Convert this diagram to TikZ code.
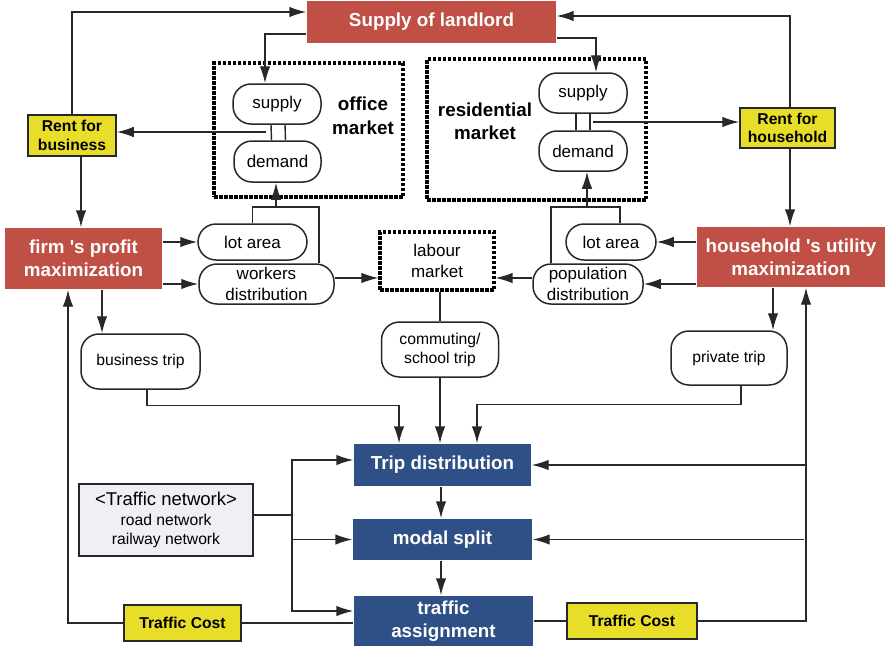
\documentclass[tikz,border=0pt]{standalone}
\usepackage{fontspec}
\setmainfont{Liberation Sans}
\usepackage{tikz}
\usetikzlibrary{arrows.meta,positioning}
\usepackage{xcolor}
\definecolor{landred}{RGB}{192,80,70}
\definecolor{tripblue}{RGB}{47,80,134}
\definecolor{rentyellow}{RGB}{232,222,42}
\definecolor{netgray}{RGB}{238,240,245}
\definecolor{linegray}{RGB}{40,40,40}

\begin{document}
\begin{tikzpicture}[
      x=1pt,y=-1pt,
      >={Latex[length=17pt,width=10.5pt]},
      line width=1.4pt,draw=linegray,
      every node/.style={inner sep=0pt,align=center,font=\fontsize{17}{20.5}\selectfont},
      redbox/.style={fill=landred,text=white,font=\fontsize{18.8}{22.7}\selectfont\bfseries},
      bluebox/.style={fill=tripblue,text=white,font=\fontsize{18.8}{22.7}\selectfont\bfseries},
      rentbox/.style={draw,line width=1.5pt,fill=rentyellow,font=\fontsize{15.7}{18.7}\selectfont\bfseries},
      pill/.style={draw,line width=1.5pt,rounded corners=18pt},
      trippill/.style={pill,font=\fontsize{15.7}{19}\selectfont},
      market/.style={draw=black,line width=3.2pt,dash pattern=on 3.5pt off 1.5pt},
      mktlabel/.style={font=\fontsize{18.8}{23.5}\selectfont\bfseries}
    ]
      \useasboundingbox (0,0) rectangle (885,645);
      % markets
      \node[market,minimum width=189,minimum height=134] (officemk) at (308.5,130) {};
      \node[market,minimum width=219,minimum height=141] (resmk) at (536.5,129.5) {};
      \node[market,minimum width=114,minimum height=58] (labour) at (437,261) {labour\\market};
      \node[mktlabel] (officetxt) at (363,116) {office\\market};
      \node[mktlabel] (restxt) at (485,121.5) {residential\\market};

      \node[redbox,minimum width=249,minimum height=42] (landlord) at (431.5,22) {Supply of landlord};
      \node[pill,minimum width=88,minimum height=40] (osupply) at (277,104) {supply};
      \node[pill,minimum width=87,minimum height=41] (odemand) at (277.5,161.5) {demand};
      \node[pill,minimum width=88,minimum height=40] (rsupply) at (583,93) {supply};
      \node[pill,minimum width=88,minimum height=40] (rdemand) at (583,151) {demand};
      \node[rentbox,minimum width=88,minimum height=41] (rbus) at (72,135.5) {Rent for\\business};
      \node[rentbox,minimum width=95,minimum height=40] (rhouse) at (787.5,128) {Rent for\\household};

      \node[redbox,minimum width=157,minimum height=61] (firm) at (83.5,258.5) {firm \textquotesingle s profit\\maximization};
      \node[redbox,minimum width=188,minimum height=60] (house) at (791,257) {household \textquotesingle s utility\\maximization};
      \node[pill,minimum width=109,minimum height=36] (olot) at (252.5,242) {lot area};
      \node[pill,minimum width=135,minimum height=40] (workers) at (266.5,284) {workers\\distribution};
      \node[pill,minimum width=90,minimum height=36] (rlot) at (611,242) {lot area};
      \node[pill,minimum width=110,minimum height=40] (popul) at (588,284) {population\\distribution};

      \node[trippill,minimum width=119,minimum height=55] (btrip) at (140.5,361.5) {business trip};
      \node[trippill,minimum width=117,minimum height=55] (ctrip) at (440,349.5) {commuting/\\school trip};
      \node[trippill,minimum width=116,minimum height=54] (ptrip) at (729,358) {private trip};

      \node[bluebox,minimum width=177,minimum height=42] (tdist) at (442.5,465) {Trip distribution};
      \node[bluebox,minimum width=179,minimum height=41] (modal) at (442.5,539.5) {modal split};
      \node[bluebox,minimum width=179,minimum height=50] (tassign) at (443.5,621) {traffic\\assignment};
      \node[rentbox,minimum width=117,minimum height=36] (tcl) at (182.5,623) {Traffic Cost};
      \node[rentbox,minimum width=130,minimum height=36] (tcr) at (632,621) {Traffic Cost};
      \node[draw,line width=1.5pt,fill=netgray,minimum width=174,minimum height=72,
            font=\fontsize{15.7}{19.3}\selectfont] (network) at (166,520)
            {{\fontsize{18.5}{21}\selectfont <Traffic network>}\\road network\\railway network};

      \coordinate (oeq) at (266,132);
      \coordinate (req) at (593,122);
      \coordinate (ojoin) at (276,207);
      \coordinate (rjoin) at (587,207);
      \coordinate (rv) at (806,0);
      \coordinate (netjoin) at (292,515);

      % landlord and rents
      \draw[->] (rbus.north) |- (landlord.west |- 0,12);
      \draw[->] (landlord.west |- 0,34) -| ([xshift=-12pt]osupply.north);
      \draw[->] ([yshift=-16pt]landlord.east) -| ([xshift=13pt]rsupply.north);
      \draw[->] ([xshift=2.5pt]rhouse.north) |- ([yshift=6pt]landlord.east);
      \draw ([xshift=-6pt]osupply.south) -- ([xshift=-6pt]odemand.north);
      \draw ([xshift=8pt]osupply.south) -- ([xshift=8pt]odemand.north);
      \draw ([xshift=-7pt]rsupply.south) -- ([xshift=-7pt]rdemand.north);
      \draw ([xshift=7pt]rsupply.south) -- ([xshift=7pt]rdemand.north);
      \draw[->] (oeq) -- (oeq -| rbus.east);
      \draw[->] (req) -- (req -| rhouse.west);
      \draw[->] ([xshift=9pt]rbus.south) -- ([xshift=9pt]rbus.south |- firm.north);
      \draw[->] ([xshift=2.5pt]rhouse.south) -- ([xshift=2.5pt]rhouse.south |- house.north);

      % firm and household
      \draw[->] (firm.east |- olot) -- (olot.west);
      \draw[->] (firm.east |- workers) -- (workers.west);
      \draw[->] (house.west |- rlot) -- (rlot.east);
      \draw[->] (house.west |- popul) -- (popul.east);
      \draw (olot.north) |- (ojoin);
      \draw ([xshift=52.5pt]workers.north) |- (ojoin);
      \draw[->] (ojoin) -- (ojoin |- odemand.south);
      \draw ([xshift=9pt]rlot.north) |- (rjoin);
      \draw ([xshift=-37pt]popul.north) |- (rjoin);
      \draw[->] (rjoin) -- (rjoin |- rdemand.south);
      \draw[->] ([yshift=6pt]workers.east) -- ([yshift=6pt]workers.east -| labour.west);
      \draw[->] ([yshift=6pt]popul.west) -- ([yshift=6pt]popul.west -| labour.east);

      % trips
      \draw (ctrip.north |- labour.south) -- (ctrip.north);
      \draw[->] (ctrip.south) -- (ctrip.south |- tdist.north);
      \draw[->] ([xshift=18.5pt]firm.south) -- ([xshift=18.5pt]firm.south |- btrip.north);
      \draw[->] ([xshift=-18pt]house.south) -- ([xshift=-18pt]house.south |- ptrip.north);
      \draw[->] ([xshift=6.5pt]btrip.south) -- ++(0,16) -| ([xshift=-43.5pt]tdist.north);
      \draw[->] ([xshift=12pt]ptrip.south) -- ++(0,19) -| ([xshift=34.5pt]tdist.north);
      \draw[->] ([xshift=-1.5pt]tdist.south) -- ([xshift=-1.5pt]modal.north);
      \draw[->] ([xshift=-1.5pt]modal.south) -- ([xshift=-1.5pt]modal.south |- tassign.north);

      % traffic cost and network
      \draw (tassign.east |- tcr) -- (tcr.west);
      \draw[->] (tcr.east) -| ([xshift=15pt]house.south);
      \draw[->] (tdist.east -| rv) -- (tdist.east);
      \draw[->] ([xshift=-2pt]modal.east -| rv) -- (modal.east);
      \draw (tassign.west |- tcl) -- (tcl.east);
      \draw[->] (tcl.west) -| ([xshift=-15.5pt]firm.south);
      \draw ([yshift=5pt]network.east) -- (netjoin);
      \draw[<->] ([yshift=5pt]tdist.west) -| (netjoin) |- ([yshift=10pt]tassign.west);
      \draw[->] (netjoin |- modal.west) -- (modal.west);
    \end{tikzpicture}
\end{document}
